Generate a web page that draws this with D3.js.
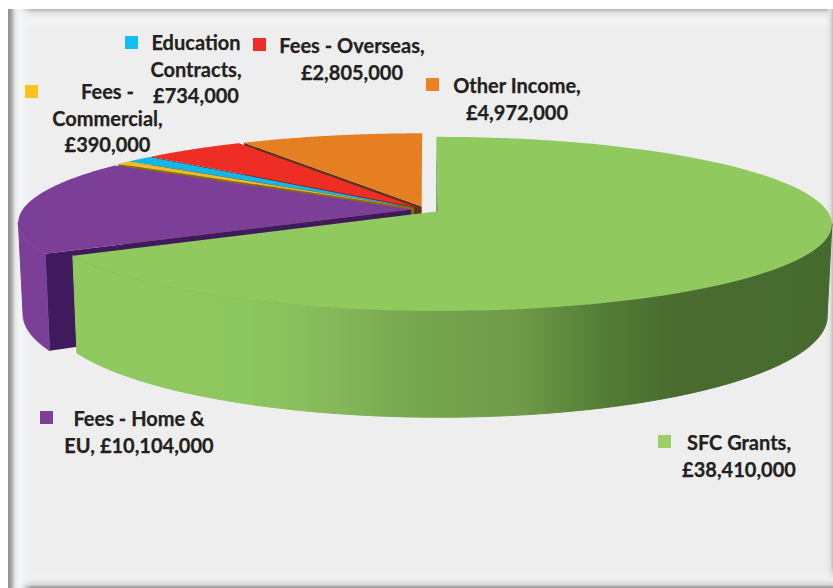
<!DOCTYPE html>
<html>
<head>
<meta charset="utf-8">
<script src="https://cdn.jsdelivr.net/npm/d3@7"></script>
<style>
html,body{margin:0;padding:0;background:#fff}
svg{display:block}
text{font-family:Lato,"Open Sans",sans-serif;font-weight:700;font-size:20px;fill:#231f20;stroke:#231f20;stroke-width:0.25px}
</style>
</head>
<body>
<svg id="chart" width="833" height="588"></svg>
<script>
// Income by source, clockwise from twelve o'clock
const categories = ["SFC Grants", "Fees - Home & EU", "Fees - Commercial", "Education Contracts", "Fees - Overseas", "Other Income"];
const values = [38410000, 10104000, 390000, 734000, 2805000, 4972000];
const topColors = ["#90ca5f", "#7c3f98", "#f5b921", "#14b6e6", "#ee2e24", "#e67f22"];
const cutColors = ["#6c8f48", "#3f1a5c", "#8a6a14", "#0d6d8a", "#7d1c16", "#5a3517"];
const rimColors = ["url(#rimGreen)", "#7c3f98", "#c8961a", "#0f95bd", "#c0241c", "#bf681b"];
const swatchColors = ["#9ccf68", "#7c3f98", "#fdc51b", "#12bdf0", "#ee2e24", "#ee8122"];
const labelLines = [
  ["SFC Grants,", "£38,410,000"],
  ["Fees - Home &", "EU, £10,104,000"],
  ["Fees -", "Commercial,", "£390,000"],
  ["Education", "Contracts,", "£734,000"],
  ["Fees - Overseas,", "£2,805,000"],
  ["Other Income,", "£4,972,000"]
];
const labelCenters = [[739, 450], [139, 426], [107.5, 99], [196, 50], [352, 53], [517, 93]];
const swatchCorners = [[658, 435], [40, 411], [25, 85], [125, 36], [253, 38], [426, 78]];

const svg = d3.select("#chart");
const defs = svg.append("defs");

// Perspective of the disc: the far edge shrinks, the near edge grows
const tilt = 0.1445, explode = 0.037;
const topPlane = {cx: 425.5, cy: 209.6, rx: 388.5, ry: 84.7};
const basePlane = {cx: 425.5, cy: 299, rx: 384, ry: 99};
function project(plane, x, y) {
  const w = 1 - tilt * y;
  return [plane.cx + plane.rx * x / w, plane.cy + plane.ry * y / w];
}
const arcs = d3.pie().sort(null).startAngle(0).endAngle(2 * Math.PI)(values);
function offset(a) {
  const mid = (a.startAngle + a.endAngle) / 2;
  return [explode * Math.sin(mid), -explode * Math.cos(mid)];
}
function rimPoint(a, plane, angle) {
  const [ox, oy] = offset(a);
  return project(plane, ox + Math.sin(angle), oy - Math.cos(angle));
}
function apex(a, plane) {
  const [ox, oy] = offset(a);
  return project(plane, ox, oy);
}
function rimRun(a, plane, from, to) {
  return d3.range(0, 1.0001, 1 / 90).map(t => rimPoint(a, plane, from + (to - from) * t));
}
const line = d3.line();

// Only the near part of the rim faces the viewer
const nearFrom = Math.acos(-tilt), nearTo = 2 * Math.PI - nearFrom;

// Panel with a soft bevelled edge; each ramp fades out into the panel colour
function ramp(id, x2, y2, stops) {
  const g = defs.append("linearGradient").attr("id", id).attr("x1", 0).attr("y1", 0).attr("x2", x2).attr("y2", y2);
  stops.forEach(([o, c, alpha]) => g.append("stop").attr("offset", o).attr("stop-color", c).attr("stop-opacity", alpha));
}
ramp("bevelL", 1, 0, [[0, "#8f8f8f", 1], [0.14, "#a6a6a6", 1], [0.3, "#e6e8ea", 1], [0.5, "#f3f5f6", 1], [1, "#f3f5f6", 0]]);
ramp("bevelT", 0, 1, [[0, "#b5b5b5", 1], [0.2, "#e4e4e4", 1], [0.5, "#f4f4f4", 1], [1, "#f4f4f4", 0]]);
ramp("bevelR", 1, 0, [[0, "#e2e2e2", 0], [0.6, "#e2e2e2", 1], [1, "#bcbcbc", 1]]);
ramp("bevelB", 0, 1, [[0, "#eef0f2", 0], [0.6, "#eef0f2", 1], [0.85, "#d6d6d6", 1], [1, "#8f8f8f", 1]]);
ramp("rimGreen", 1, 0, [
  [0, "#90ca5f", 1], [0.23, "#8dc75f", 1], [0.336, "#85b95a", 1], [0.43, "#78a850", 1], [0.59, "#6f9a48", 1],
  [0.65, "#5f8a3c", 1], [0.71, "#527a35", 1], [0.8, "#4a6b2f", 1], [1, "#466a2d", 1]
]);
d3.select("#rimGreen").attr("gradientUnits", "userSpaceOnUse")
  .attr("x1", 77).attr("x2", 830).attr("y1", 0).attr("y2", 0);

svg.append("rect").attr("x", 8).attr("y", 9).attr("width", 825).attr("height", 579).attr("fill", "#eeeeee");
svg.append("rect").attr("x", 8).attr("y", 9).attr("width", 825).attr("height", 20).attr("fill", "url(#bevelT)");
svg.append("rect").attr("x", 826).attr("y", 9).attr("width", 7).attr("height", 579).attr("fill", "url(#bevelR)");
svg.append("rect").attr("x", 8).attr("y", 566).attr("width", 825).attr("height", 22).attr("fill", "url(#bevelB)");
svg.append("rect").attr("x", 8).attr("y", 9).attr("width", 24).attr("height", 579).attr("fill", "url(#bevelL)");

// Far slices first, so each nearer slice paints over what lies behind it
const paintOrder = [5, 4, 3, 2, 1, 0];
const pieGroup = svg.append("g");
paintOrder.forEach(i => {
  const a = arcs[i];
  const cut = [rimPoint(a, topPlane, a.startAngle), apex(a, topPlane), apex(a, basePlane), rimPoint(a, basePlane, a.startAngle)];
  pieGroup.append("path").attr("d", line(cut) + "Z").attr("fill", cutColors[i]);
  const from = Math.max(a.startAngle, nearFrom), to = Math.min(a.endAngle, nearTo);
  if (to > from) {
    const wall = rimRun(a, topPlane, from, to).concat(rimRun(a, basePlane, from, to).reverse());
    // The thin stroke closes the seam where the wall meets the top face
    pieGroup.append("path").attr("d", line(wall) + "Z")
      .attr("fill", rimColors[i]).attr("stroke", rimColors[i]).attr("stroke-width", 1);
  }
  const face = [apex(a, topPlane)].concat(rimRun(a, topPlane, a.startAngle, a.endAngle));
  pieGroup.append("path").attr("d", line(face) + "Z").attr("fill", topColors[i]);
});

// Swatch and label beside each slice
categories.forEach((name, i) => {
  const [sx, sy] = swatchCorners[i];
  svg.append("rect").attr("x", sx).attr("y", sy).attr("width", 13).attr("height", 13).attr("fill", swatchColors[i]);
  const [lx, ly] = labelCenters[i];
  const label = svg.append("text").attr("text-anchor", "middle");
  labelLines[i].forEach((t, k) => {
    label.append("tspan").attr("x", lx).attr("y", ly + k * 26.7).text(t);
  });
});
</script>
</body>
</html>
